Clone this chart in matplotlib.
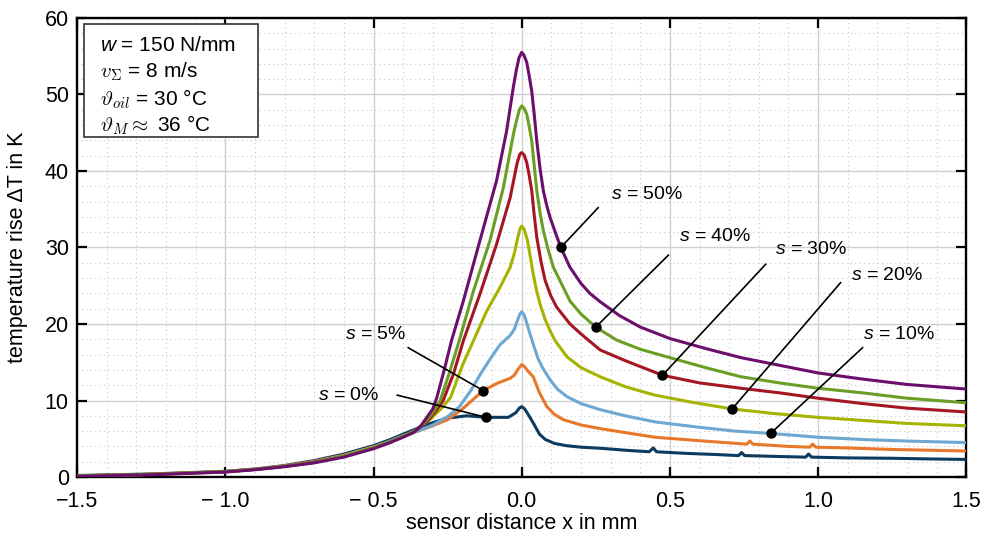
import matplotlib
matplotlib.use('Agg')
import matplotlib.pyplot as plt
from matplotlib.patches import Rectangle
from matplotlib.ticker import MultipleLocator

plt.rcParams['font.family'] = ['Liberation Sans', 'DejaVu Sans']
plt.rcParams['mathtext.fontset'] = 'custom'
plt.rcParams['mathtext.rm'] = 'Liberation Sans'
plt.rcParams['mathtext.it'] = 'Liberation Sans:italic'

# measured temperature rise, one series per slip ratio s
x_s0 = [-1.5, -1.25, -1.0, -0.9, -0.8, -0.7, -0.6, -0.5, -0.45, -0.4, -0.35, -0.3, -0.25, -0.185,
        -0.12, -0.073, -0.045, -0.02, -0.008, 0.0, 0.01, 0.02, 0.04, 0.06, 0.08, 0.11, 0.15, 0.2,
        0.27, 0.35, 0.43, 0.444, 0.455, 0.55, 0.65, 0.732, 0.742, 0.752, 0.85, 0.958, 0.968,
        0.978, 1.1, 1.25, 1.4, 1.5]
t_s0 = [0.2, 0.4, 0.75, 1.05, 1.5, 2.15, 3.0, 4.1, 4.8, 5.6, 6.4, 7.1, 7.7, 8.0,
        7.8, 7.8, 7.8, 8.4, 9.0, 9.2, 8.9, 8.3, 7.0, 5.6, 4.9, 4.4, 4.1, 3.9,
        3.75, 3.5, 3.3, 3.8, 3.3, 3.1, 2.95, 2.8, 3.2, 2.8, 2.7, 2.6, 3.0,
        2.6, 2.5, 2.45, 2.35, 2.3]

x_s5 = [-1.5, -1.25, -1.0, -0.9, -0.8, -0.7, -0.6, -0.5, -0.45, -0.4, -0.35, -0.3, -0.25, -0.2,
        -0.13, -0.08, -0.039, -0.025, -0.012, 0.0, 0.01, 0.02, 0.039, 0.05, 0.06, 0.085, 0.11,
        0.14, 0.2, 0.27, 0.35, 0.45, 0.55, 0.65, 0.76, 0.77, 0.78, 0.9, 0.972, 0.982, 0.992,
        1.1, 1.25, 1.5]
t_s5 = [0.15, 0.35, 0.7, 1.0, 1.45, 2.05, 2.85, 3.95, 4.6, 5.4, 6.0, 6.7, 7.5, 8.9,
        11.3, 12.3, 12.9, 13.3, 14.1, 14.7, 14.4, 13.9, 13.1, 12.0, 11.0, 9.2, 8.2,
        7.5, 6.8, 6.3, 5.8, 5.2, 4.9, 4.6, 4.3, 4.7, 4.3, 4.0, 3.9, 4.3, 3.9,
        3.8, 3.6, 3.4]

x_s10 = [-1.5, -1.25, -1.0, -0.9, -0.8, -0.7, -0.6, -0.5, -0.45, -0.4, -0.35, -0.3, -0.25, -0.21,
         -0.17, -0.14, -0.1, -0.073, -0.039, -0.025, -0.015, -0.006, 0.0, 0.008, 0.015, 0.028,
         0.042, 0.055, 0.07, 0.096, 0.12, 0.153, 0.2, 0.265, 0.35, 0.45, 0.6, 0.72, 0.84, 1.0,
         1.15, 1.3, 1.5]
t_s10 = [0.15, 0.35, 0.7, 1.0, 1.4, 2.0, 2.8, 3.9, 4.6, 5.4, 6.0, 6.8, 7.9, 9.2,
         11.4, 13.4, 15.8, 17.3, 18.5, 19.3, 20.4, 21.3, 21.6, 21.2, 20.4, 18.7,
         17.0, 15.5, 14.3, 12.7, 11.5, 10.5, 9.6, 8.8, 8.0, 7.2, 6.5, 6.0, 5.7, 5.2,
         4.9, 4.7, 4.5]

x_s20 = [-1.5, -1.25, -1.0, -0.9, -0.8, -0.7, -0.6, -0.5, -0.45, -0.4, -0.36, -0.31, -0.27, -0.24,
         -0.2, -0.163, -0.118, -0.073, -0.039, -0.025, -0.015, -0.006, 0.0, 0.008, 0.019, 0.029,
         0.039, 0.05, 0.062, 0.078, 0.096, 0.113, 0.153, 0.2, 0.265, 0.35, 0.45, 0.57, 0.71,
         0.85, 1.0, 1.15, 1.3, 1.5]
t_s20 = [0.15, 0.35, 0.7, 1.0, 1.4, 1.95, 2.75, 3.85, 4.5, 5.3, 6.0, 7.5, 9.0, 10.4,
         14.6, 17.8, 21.7, 24.8, 27.4, 29.2, 31.0, 32.4, 32.8, 32.4, 31.0, 28.8,
         26.5, 24.4, 22.6, 20.7, 19.1, 17.8, 15.7, 14.3, 13.1, 11.8, 10.7, 9.8, 8.9,
         8.3, 7.8, 7.4, 7.0, 6.7]

x_s30 = [-1.5, -1.25, -1.0, -0.9, -0.8, -0.7, -0.6, -0.5, -0.45, -0.4, -0.36, -0.32, -0.29, -0.265,
         -0.23, -0.197, -0.141, -0.085, -0.039, -0.025, -0.015, -0.006, 0.0, 0.008, 0.017, 0.025,
         0.034, 0.042, 0.051, 0.065, 0.079, 0.098, 0.118, 0.163, 0.2, 0.265, 0.35, 0.475, 0.6,
         0.74, 0.87, 1.0, 1.15, 1.3, 1.5]
t_s30 = [0.15, 0.35, 0.7, 1.0, 1.4, 1.95, 2.7, 3.8, 4.5, 5.3, 6.0, 7.2, 8.6, 10.0,
         13.5, 17.8, 23.9, 30.4, 36.5, 39.2, 41.1, 42.2, 42.4, 42.1, 41.1, 39.5,
         37.4, 34.3, 31.3, 28.2, 25.7, 23.7, 22.2, 20.0, 18.7, 16.6, 15.2, 13.3, 12.3,
         11.6, 11.0, 10.3, 9.6, 9.0, 8.5]

x_s40 = [-1.5, -1.25, -1.0, -0.9, -0.8, -0.7, -0.6, -0.5, -0.45, -0.4, -0.36, -0.33, -0.3, -0.275,
         -0.245, -0.211, -0.163, -0.107, -0.062, -0.028, -0.018, -0.008, 0.0, 0.008, 0.017, 0.025,
         0.034, 0.042, 0.051, 0.062, 0.073, 0.09, 0.107, 0.163, 0.2, 0.25, 0.32, 0.4, 0.5, 0.62,
         0.74, 0.87, 1.0, 1.15, 1.3, 1.5]
t_s40 = [0.15, 0.35, 0.7, 1.0, 1.4, 1.9, 2.7, 3.8, 4.5, 5.3, 6.1, 7.0, 8.4, 10.0,
         13.5, 17.8, 24.3, 30.9, 37.8, 44.8, 46.5, 48.0, 48.5, 48.2, 47.4, 45.9,
         43.9, 40.8, 37.4, 34.5, 32.2, 29.6, 27.4, 23.0, 21.3, 19.6, 17.9, 16.7, 15.6, 14.3,
         13.1, 12.3, 11.6, 11.0, 10.3, 9.7]

x_s50 = [-1.5, -1.25, -1.0, -0.9, -0.8, -0.7, -0.6, -0.5, -0.45, -0.4, -0.366, -0.34, -0.32, -0.3,
         -0.287, -0.262, -0.237, -0.197, -0.141, -0.085, -0.051, -0.038, -0.028, -0.018, -0.009,
         0.0, 0.008, 0.017, 0.025, 0.034, 0.042, 0.051, 0.062, 0.073, 0.085, 0.096, 0.115, 0.132,
         0.163, 0.2, 0.23, 0.265, 0.33, 0.4, 0.5, 0.62, 0.74, 0.87, 1.0, 1.15, 1.3, 1.5]
t_s50 = [0.1, 0.3, 0.65, 0.95, 1.35, 1.85, 2.6, 3.7, 4.4, 5.2, 5.8, 6.7, 7.8, 8.9,
         10.3, 13.9, 17.8, 23.0, 30.9, 38.7, 45.2, 48.5, 51.0, 53.2, 54.8,
         55.5, 55.1, 54.2, 52.5, 50.4, 47.5, 43.9, 40.3, 37.4, 35.4, 33.9, 31.8, 30.0,
         27.4, 25.3, 24.0, 22.9, 21.1, 19.6, 18.1, 16.8, 15.6, 14.6, 13.6, 12.8, 12.1, 11.5]

series = [(x_s0, t_s0), (x_s5, t_s5), (x_s10, t_s10), (x_s20, t_s20),
          (x_s30, t_s30), (x_s40, t_s40), (x_s50, t_s50)]
colors = ['#0b3b60', '#e8772a', '#6ea8d2', '#a6b300', '#a51622', '#6a9e24', '#6c0f6c']

# label text, point on curve, label anchor, line end, alignment
labels = ['0%', '5%', '10%', '20%', '30%', '40%', '50%']
points = [(-0.12, 7.8), (-0.13, 11.3), (0.84, 5.7), (0.71, 8.9),
          (0.475, 13.3), (0.25, 19.6), (0.132, 30.0)]
text_pos = [(-0.48, 10.6), (-0.39, 18.6), (1.15, 18.6), (1.11, 26.4),
            (0.855, 29.7), (0.53, 31.4), (0.30, 36.9)]
line_end = [(-0.42, 10.7), (-0.383, 16.9), (1.15, 16.9), (1.076, 25.4),
            (0.823, 27.8), (0.495, 29.0), (0.258, 35.2)]
ha = ['right', 'right', 'left', 'left', 'left', 'left', 'left']

fig = plt.figure(figsize=(9.89, 5.43), dpi=100)
ax = fig.add_axes([0.078, 0.1215, 0.899, 0.8455])

for (xs, ts), c in zip(series, colors):
    ax.plot(xs, ts, color=c, lw=2.2, solid_capstyle='round', solid_joinstyle='round', zorder=3)

for lab, p, tp, le, h in zip(labels, points, text_pos, line_end, ha):
    ax.plot([p[0], le[0]], [p[1], le[1]], color='black', lw=1.2, zorder=4)
    ax.plot(p[0], p[1], 'o', color='black', ms=6.5, zorder=5)
    ax.text(tp[0], tp[1], r'$s$ = ' + lab, ha=h, va='center', fontsize=14, zorder=5)

ax.set_xlim(-1.5, 1.5)
ax.set_ylim(0, 60)
ax.set_xticks([-1.5, -1.0, -0.5, 0.0, 0.5, 1.0, 1.5])
ax.set_xticklabels(['\u22121.5', '\u2212 1.0', '\u2212 0.5', '0.0', '0.5', '1.0', '1.5'])
ax.set_yticks([0, 10, 20, 30, 40, 50, 60])
ax.xaxis.set_minor_locator(MultipleLocator(0.1))
ax.yaxis.set_minor_locator(MultipleLocator(2))
ax.tick_params(which='major', direction='in', top=True, right=True, length=7, width=1.6,
               labelsize=15.5)
ax.tick_params(axis='x', which='major', pad=10)
ax.tick_params(axis='y', which='major', pad=6)
ax.tick_params(which='minor', length=0)
ax.grid(which='major', color='#d0d0d0', lw=1.0, zorder=0)
ax.grid(which='minor', color='#c8c8c8', lw=0.8, ls=(0, (1, 3)), zorder=0)
for sp in ax.spines.values():
    sp.set_linewidth(1.7)

ax.set_xlabel('sensor distance x in mm', fontsize=15.5, labelpad=1)
ax.set_ylabel('temperature rise \u0394T in K', fontsize=15.5)
ax.yaxis.set_label_coords(-0.055, 0.5)

# operating conditions box
ax.add_patch(Rectangle((0.008, 0.741), 0.195, 0.246, transform=ax.transAxes,
                       facecolor='white', edgecolor='#333333', lw=1.2, zorder=6))
box_lines = [(r'$w$ = 150 N/mm', 'custom'),
             (r'$v_\Sigma$ = 8 m/s', 'cm'),
             (r'$\vartheta_{oil}$ = 30 °C', 'cm'),
             (r'$\vartheta_M \approx$ 36 °C', 'cm')]
for (s, mf), yy in zip(box_lines, [0.941, 0.882, 0.823, 0.767]):
    ax.text(0.026, yy, s, transform=ax.transAxes, fontsize=15, va='center', ha='left',
            math_fontfamily=mf, zorder=7)

fig.savefig('out.png', dpi=100)
